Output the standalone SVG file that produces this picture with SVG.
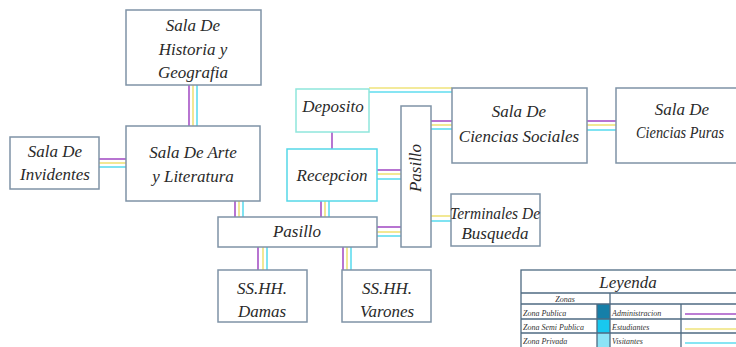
<svg xmlns="http://www.w3.org/2000/svg" width="736" height="347" viewBox="0 0 736 347">
<style>
.box{fill:#ffffff;stroke:#7f93a6;stroke-width:1.5}
.boxc{fill:#ffffff;stroke:#55d8e8;stroke-width:1.5}
.boxt{fill:#ffffff;stroke:#8fe6dc;stroke-width:1.5}
.t{font-family:"Liberation Serif","DejaVu Serif",serif;font-style:italic;font-size:17px;fill:#2a2a2a;text-anchor:middle}
.s{font-family:"Liberation Serif","DejaVu Serif",serif;font-style:italic;font-size:8px;fill:#333}
.p{stroke:#a652c6;stroke-width:1.6;fill:none}
.y{stroke:#efe37a;stroke-width:1.6;fill:none}
.c{stroke:#5fdcef;stroke-width:1.6;fill:none}
.lg{stroke:#4e6a82;stroke-width:1.3;fill:none}
</style>
<rect width="736" height="347" fill="#ffffff"/>
<g id="connectors">
<line class="p" x1="189" y1="85" x2="189" y2="126"/><line class="y" x1="193" y1="85" x2="193" y2="126"/><line class="c" x1="197" y1="85" x2="197" y2="126"/>
<line class="p" x1="99" y1="159" x2="126" y2="159"/><line class="y" x1="99" y1="163" x2="126" y2="163"/><line class="c" x1="99" y1="167" x2="126" y2="167"/>
<line class="p" x1="235" y1="201" x2="235" y2="217"/><line class="y" x1="239" y1="201" x2="239" y2="217"/><line class="c" x1="243" y1="201" x2="243" y2="217"/>
<line class="p" x1="321" y1="201" x2="321" y2="217"/><line class="y" x1="325" y1="201" x2="325" y2="217"/><line class="c" x1="329" y1="201" x2="329" y2="217"/>
<line class="p" x1="258" y1="247" x2="258" y2="270"/><line class="y" x1="263" y1="247" x2="263" y2="270"/><line class="c" x1="267" y1="247" x2="267" y2="270"/>
<line class="p" x1="343" y1="247" x2="343" y2="270"/><line class="y" x1="347" y1="247" x2="347" y2="270"/><line class="c" x1="351" y1="247" x2="351" y2="270"/>
<line class="p" x1="377" y1="227" x2="401" y2="227"/><line class="y" x1="377" y1="232" x2="401" y2="232"/><line class="c" x1="377" y1="236" x2="401" y2="236"/>
<line class="p" x1="377" y1="170" x2="401" y2="170"/><line class="y" x1="377" y1="174" x2="401" y2="174"/><line class="c" x1="377" y1="179" x2="401" y2="179"/>
<line class="p" x1="332" y1="132" x2="332" y2="149"/>
<line class="y" x1="369" y1="88" x2="452" y2="88"/><line class="c" x1="369" y1="92" x2="452" y2="92"/>
<line class="p" x1="431" y1="121" x2="452" y2="121"/><line class="y" x1="431" y1="125" x2="452" y2="125"/><line class="c" x1="431" y1="129" x2="452" y2="129"/>
<line class="y" x1="431" y1="216" x2="451" y2="216"/><line class="c" x1="431" y1="221" x2="451" y2="221"/>
<line class="p" x1="587" y1="121" x2="616" y2="121"/><line class="y" x1="587" y1="125" x2="616" y2="125"/><line class="c" x1="587" y1="130" x2="616" y2="130"/>
</g>
<g id="historia"><rect class="box" x="126" y="10" width="135" height="75"/>
<text class="t" x="193" y="31">Sala De</text><text class="t" x="193" y="55">Historia y</text><text class="t" x="193" y="78">Geografia</text></g>
<g id="arte"><rect class="box" x="126" y="126" width="134" height="75"/>
<text class="t" x="193" y="158">Sala De Arte</text><text class="t" x="193" y="182">y Literatura</text></g>
<g id="invidentes"><rect class="box" x="10" y="137" width="89" height="52"/>
<text class="t" x="55" y="157">Sala De</text><text class="t" x="55" y="180">Invidentes</text></g>
<g id="deposito"><rect class="boxt" x="296" y="89" width="73" height="43"/>
<text class="t" x="333" y="112">Deposito</text></g>
<g id="recepcion"><rect class="boxc" x="287" y="149" width="90" height="52"/>
<text class="t" x="332" y="181">Recepcion</text></g>
<g id="pasillo-v"><rect class="box" x="401" y="106" width="30" height="141"/>
<text class="t" transform="translate(421 168) rotate(-90)" x="0" y="0">Pasillo</text></g>
<g id="pasillo-h"><rect class="box" x="218" y="217" width="159" height="30"/>
<text class="t" x="297" y="237">Pasillo</text></g>
<g id="damas"><rect class="box" x="218" y="270" width="89" height="52"/>
<text class="t" x="262" y="294">SS.HH.</text><text class="t" x="262" y="317">Damas</text></g>
<g id="varones"><rect class="box" x="342" y="270" width="89" height="52"/>
<text class="t" x="387" y="294">SS.HH.</text><text class="t" x="387" y="317">Varones</text></g>
<g id="sociales"><rect class="box" x="452" y="88" width="135" height="75"/>
<text class="t" x="519" y="117">Sala De</text><text class="t" x="519" y="142">Ciencias Sociales</text></g>
<g id="puras"><rect class="box" x="616" y="88" width="130" height="75"/>
<text class="t" x="682" y="115">Sala De</text><text class="t" x="680" y="138" font-size="15.5" textLength="88" lengthAdjust="spacingAndGlyphs">Ciencias Puras</text></g>
<g id="terminales"><rect class="box" x="451" y="194" width="89" height="52"/>
<text class="t" x="495" y="219" textLength="90" lengthAdjust="spacingAndGlyphs">Terminales De</text><text class="t" x="495" y="239">Busqueda</text></g>
<g id="leyenda">
<rect x="597" y="304" width="13" height="15" fill="#167fa8"/>
<rect x="597" y="319" width="13" height="14" fill="#18c8ef"/>
<rect x="597" y="333" width="13" height="14" fill="#8ce4f6"/>
<rect class="lg" x="521" y="270" width="225" height="85"/>
<line class="lg" x1="521" y1="293" x2="736" y2="293"/>
<line class="lg" x1="521" y1="304" x2="736" y2="304"/>
<line class="lg" x1="521" y1="319" x2="736" y2="319"/>
<line class="lg" x1="521" y1="333" x2="736" y2="333"/>
<line class="lg" x1="610" y1="293" x2="610" y2="347"/>
<line class="lg" x1="597" y1="304" x2="597" y2="347"/>
<line class="lg" x1="681" y1="304" x2="681" y2="347"/>
<text class="t" x="628" y="288">Leyenda</text>
<text class="s" x="565" y="302" text-anchor="middle">Zonas</text>
<text class="s" x="523" y="316">Zona Publica</text>
<text class="s" x="523" y="330">Zona Semi Publica</text>
<text class="s" x="523" y="344">Zona Privada</text>
<text class="s" x="612" y="316">Administracion</text>
<text class="s" x="612" y="330">Estudiantes</text>
<text class="s" x="612" y="344">Visitantes</text>
<line class="p" x1="685" y1="314" x2="736" y2="314"/>
<line class="y" x1="685" y1="329" x2="736" y2="329"/>
<line class="c" x1="685" y1="343" x2="736" y2="343"/>
</g>
</svg>
